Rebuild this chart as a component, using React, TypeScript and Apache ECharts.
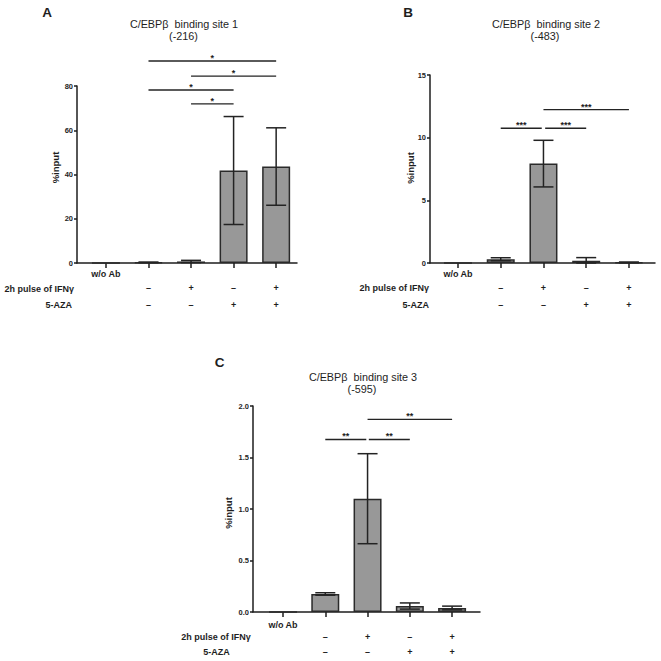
import React, { useEffect, useRef } from "react";
import * as echarts from "echarts";

// ---- categories / row labels ----
const groupLabels = ["w/o Ab", "", "", "", ""];
const ifnSigns = ["", "–", "+", "–", "+"];
const azaSigns = ["", "–", "–", "+", "+"];
const categoryPos = [0, 1, 2, 3, 4];

// ---- Panel A: binding site 1 (-216) ----
const siteAMeans = [0, 0.3, 0.7, 41.8, 43.6];
const siteAErrs = [0, 0.1, 0.5, 24.4, 17.5];
const sigAFrom = [1, 2, 1, 2];
const sigATo = [4, 4, 3, 3];
const sigAY = [91.3, 84.5, 78.2, 71.9];
const sigAText = ["*", "*", "*", "*"];

// ---- Panel B: binding site 2 (-483) ----
const siteBMeans = [0, 0.3, 7.93, 0.18, 0.05];
const siteBErrs = [0, 0.12, 1.86, 0.25, 0.03];
const sigBFrom = [2, 1, 2.04];
const sigBTo = [4, 1.96, 3];
const sigBY = [12.24, 10.75, 10.75];
const sigBText = ["***", "***", "***"];

// ---- Panel C: binding site 3 (-595) ----
const siteCMeans = [0, 0.175, 1.1, 0.058, 0.039];
const siteCErrs = [0, 0.012, 0.437, 0.03, 0.018];
const sigCFrom = [2, 1, 2.03];
const sigCTo = [4, 1.97, 3];
const sigCY = [1.87, 1.675, 1.675];
const sigCText = ["**", "**", "**"];

const FONT = "'Liberation Sans', Arial, Helvetica, sans-serif";
const INK = "#1e1e1e";

type Panel = {
  grid: any;
  xMin: number;
  xMax: number;
  yMax: number;
  yInterval: number;
  yDecimals: number;
  means: number[];
  errs: number[];
  sigFrom: number[];
  sigTo: number[];
  sigY: number[];
  sigText: string[];
  lh: [number, number, number];
  labelMargin: number;
};

const panels: Panel[] = [
  {
    grid: { left: 77, top: 86, width: 220, height: 177 },
    xMin: -0.68, xMax: 4.49, yMax: 80, yInterval: 20, yDecimals: 0,
    means: siteAMeans, errs: siteAErrs,
    sigFrom: sigAFrom, sigTo: sigATo, sigY: sigAY, sigText: sigAText,
    lh: [14, 14, 19], labelMargin: 4,
  },
  {
    grid: { left: 430, top: 75, width: 225, height: 188 },
    xMin: -0.655, xMax: 4.61, yMax: 15, yInterval: 5, yDecimals: 0,
    means: siteBMeans, errs: siteBErrs,
    sigFrom: sigBFrom, sigTo: sigBTo, sigY: sigBY, sigText: sigBText,
    lh: [14, 14, 19], labelMargin: 4,
  },
  {
    grid: { left: 253, top: 406, width: 227, height: 206 },
    xMin: -0.71, xMax: 4.66, yMax: 2, yInterval: 0.5, yDecimals: 1,
    means: siteCMeans, errs: siteCErrs,
    sigFrom: sigCFrom, sigTo: sigCTo, sigY: sigCY, sigText: sigCText,
    lh: [12, 12, 17], labelMargin: 7,
  },
];

function buildOption() {
  const grids: any[] = [];
  const xAxes: any[] = [];
  const yAxes: any[] = [];
  const series: any[] = [];

  panels.forEach((p, i) => {
    grids.push({ ...p.grid, containLabel: false });
    xAxes.push({
      type: "value",
      gridIndex: i,
      min: p.xMin,
      max: p.xMax,
      splitLine: { show: false },
      axisLine: { show: true, onZero: false, lineStyle: { color: INK, width: 1.5 } },
      axisTick: {
        show: true,
        customValues: categoryPos,
        length: 5,
        lineStyle: { color: INK, width: 1.5 },
      },
      axisLabel: {
        show: true,
        customValues: categoryPos,
        margin: p.labelMargin,
        formatter: (v: number) => {
          const k = Math.round(v);
          const g = groupLabels[k] || " ";
          const s1 = ifnSigns[k] || " ";
          const s2 = azaSigns[k] || " ";
          return `{a|${g}}\n{b|${s1}}\n{c|${s2}}`;
        },
        rich: {
          a: { fontSize: 9, fontWeight: "bold", fontFamily: FONT, color: INK, lineHeight: p.lh[0] },
          b: { fontSize: 9, fontWeight: "bold", fontFamily: FONT, color: INK, lineHeight: p.lh[1] },
          c: { fontSize: 9, fontWeight: "bold", fontFamily: FONT, color: INK, lineHeight: p.lh[2] },
        },
      },
    });
    yAxes.push({
      type: "value",
      gridIndex: i,
      min: 0,
      max: p.yMax,
      interval: p.yInterval,
      splitLine: { show: false },
      axisLine: { show: true, onZero: false, lineStyle: { color: INK, width: 1.5 } },
      axisTick: { show: true, length: 3, lineStyle: { color: INK, width: 1.5 } },
      axisLabel: {
        margin: 4,
        fontSize: 7.5,
        fontWeight: "bold",
        fontFamily: FONT,
        color: INK,
        formatter: (v: number) => v.toFixed(p.yDecimals),
      },
    });

    series.push({
      type: "bar",
      xAxisIndex: i,
      yAxisIndex: i,
      barWidth: 28,
      z: 2,
      data: p.means.map((m, k) => [categoryPos[k], m]),
      itemStyle: { color: "#989898", borderColor: "#2a2a2a", borderWidth: 1.5 },
      silent: true,
    });

    series.push({
      type: "custom",
      xAxisIndex: i,
      yAxisIndex: i,
      clip: false,
      silent: true,
      z: 5,
      encode: { x: 0, y: [1, 2] },
      data: p.means
        .map((m, k) => [categoryPos[k], Math.max(0, m - p.errs[k]), m + p.errs[k], p.errs[k]])
        .filter((d) => d[3] > 0),
      renderItem: (params: any, api: any) => {
        const x = api.value(0);
        const lo = api.value(1);
        const hi = api.value(2);
        const pt = api.coord([x, hi]);
        const pb = api.coord([x, lo]);
        const w = 10;
        const st = { stroke: "#232323", lineWidth: 1.5 };
        return {
          type: "group",
          children: [
            { type: "line", shape: { x1: pt[0], y1: pt[1], x2: pb[0], y2: pb[1] }, style: st },
            { type: "line", shape: { x1: pt[0] - w, y1: pt[1], x2: pt[0] + w, y2: pt[1] }, style: st },
            { type: "line", shape: { x1: pb[0] - w, y1: pb[1], x2: pb[0] + w, y2: pb[1] }, style: st },
          ],
        };
      },
    });

    series.push({
      type: "custom",
      xAxisIndex: i,
      yAxisIndex: i,
      clip: false,
      silent: true,
      z: 5,
      encode: { x: [0, 1], y: 2 },
      data: p.sigFrom.map((f, k) => [f, p.sigTo[k], p.sigY[k]]),
      renderItem: (params: any, api: any) => {
        const x1 = api.value(0);
        const x2 = api.value(1);
        const y = api.value(2);
        const a = api.coord([x1, y]);
        const b = api.coord([x2, y]);
        return {
          type: "group",
          children: [
            {
              type: "line",
              shape: { x1: a[0], y1: a[1], x2: b[0], y2: b[1] },
              style: { stroke: "#232323", lineWidth: 1.3 },
            },
            {
              type: "text",
              x: (a[0] + b[0]) / 2,
              y: a[1] - 3,
              style: {
                text: p.sigText[params.dataIndex],
                align: "center",
                verticalAlign: "middle",
                fontSize: 9,
                fontWeight: "bold",
                fontFamily: FONT,
                fill: INK,
              },
            },
          ],
        };
      },
    });
  });

  const txt = (
    x: number, y: number, text: string, size: number, weight: string,
    align = "center", rotation = 0
  ) => ({
    type: "text",
    x, y, rotation,
    silent: true,
    style: {
      text, fontSize: size, fontWeight: weight, fontFamily: FONT, fill: INK,
      align, verticalAlign: "middle",
    },
  });

  const graphic: any[] = [
    // panel letters
    txt(47, 12, "A", 13.5, "bold"),
    txt(408, 12, "B", 13.5, "bold"),
    txt(219.5, 362.5, "C", 13.5, "bold"),
    // titles
    txt(184, 24, "C/EBPβ  binding site 1", 10.8, "normal"),
    txt(183.5, 35.5, "(-216)", 10.8, "normal"),
    txt(546, 24, "C/EBPβ  binding site 2", 10.8, "normal"),
    txt(545, 35.5, "(-483)", 10.8, "normal"),
    txt(363, 377, "C/EBPβ  binding site 3", 10.8, "normal"),
    txt(362, 388.5, "(-595)", 10.8, "normal"),
    // y axis names
    txt(55, 167.5, "%input", 9.5, "bold", "center", Math.PI / 2),
    txt(410, 168, "%input", 9.5, "bold", "center", Math.PI / 2),
    txt(228, 513, "%input", 9.5, "bold", "center", Math.PI / 2),
    // row headers
    txt(74, 288.5, "2h pulse of IFNγ", 9, "bold", "right"),
    txt(72, 305, "5-AZA", 9, "bold", "right"),
    txt(429, 288, "2h pulse of IFNγ", 9, "bold", "right"),
    txt(429, 304.5, "5-AZA", 9, "bold", "right"),
    txt(216, 637, "2h pulse of IFNγ", 9, "bold", "center"),
    txt(216.5, 652, "5-AZA", 9, "bold", "center"),
  ];

  return {
    animation: false,
    backgroundColor: "#ffffff",
    grid: grids,
    xAxis: xAxes,
    yAxis: yAxes,
    series,
    graphic,
  };
}

export default function App() {
  const ref = useRef<HTMLDivElement | null>(null);
  useEffect(() => {
    if (!ref.current) return;
    const chart = echarts.init(ref.current, undefined, { renderer: "svg" });
    chart.setOption(buildOption() as any);
    return () => chart.dispose();
  }, []);
  return (
    <div
      ref={ref}
      style={{ position: "absolute", left: 0, top: 0, width: 661, height: 661, background: "#fff" }}
    />
  );
}
